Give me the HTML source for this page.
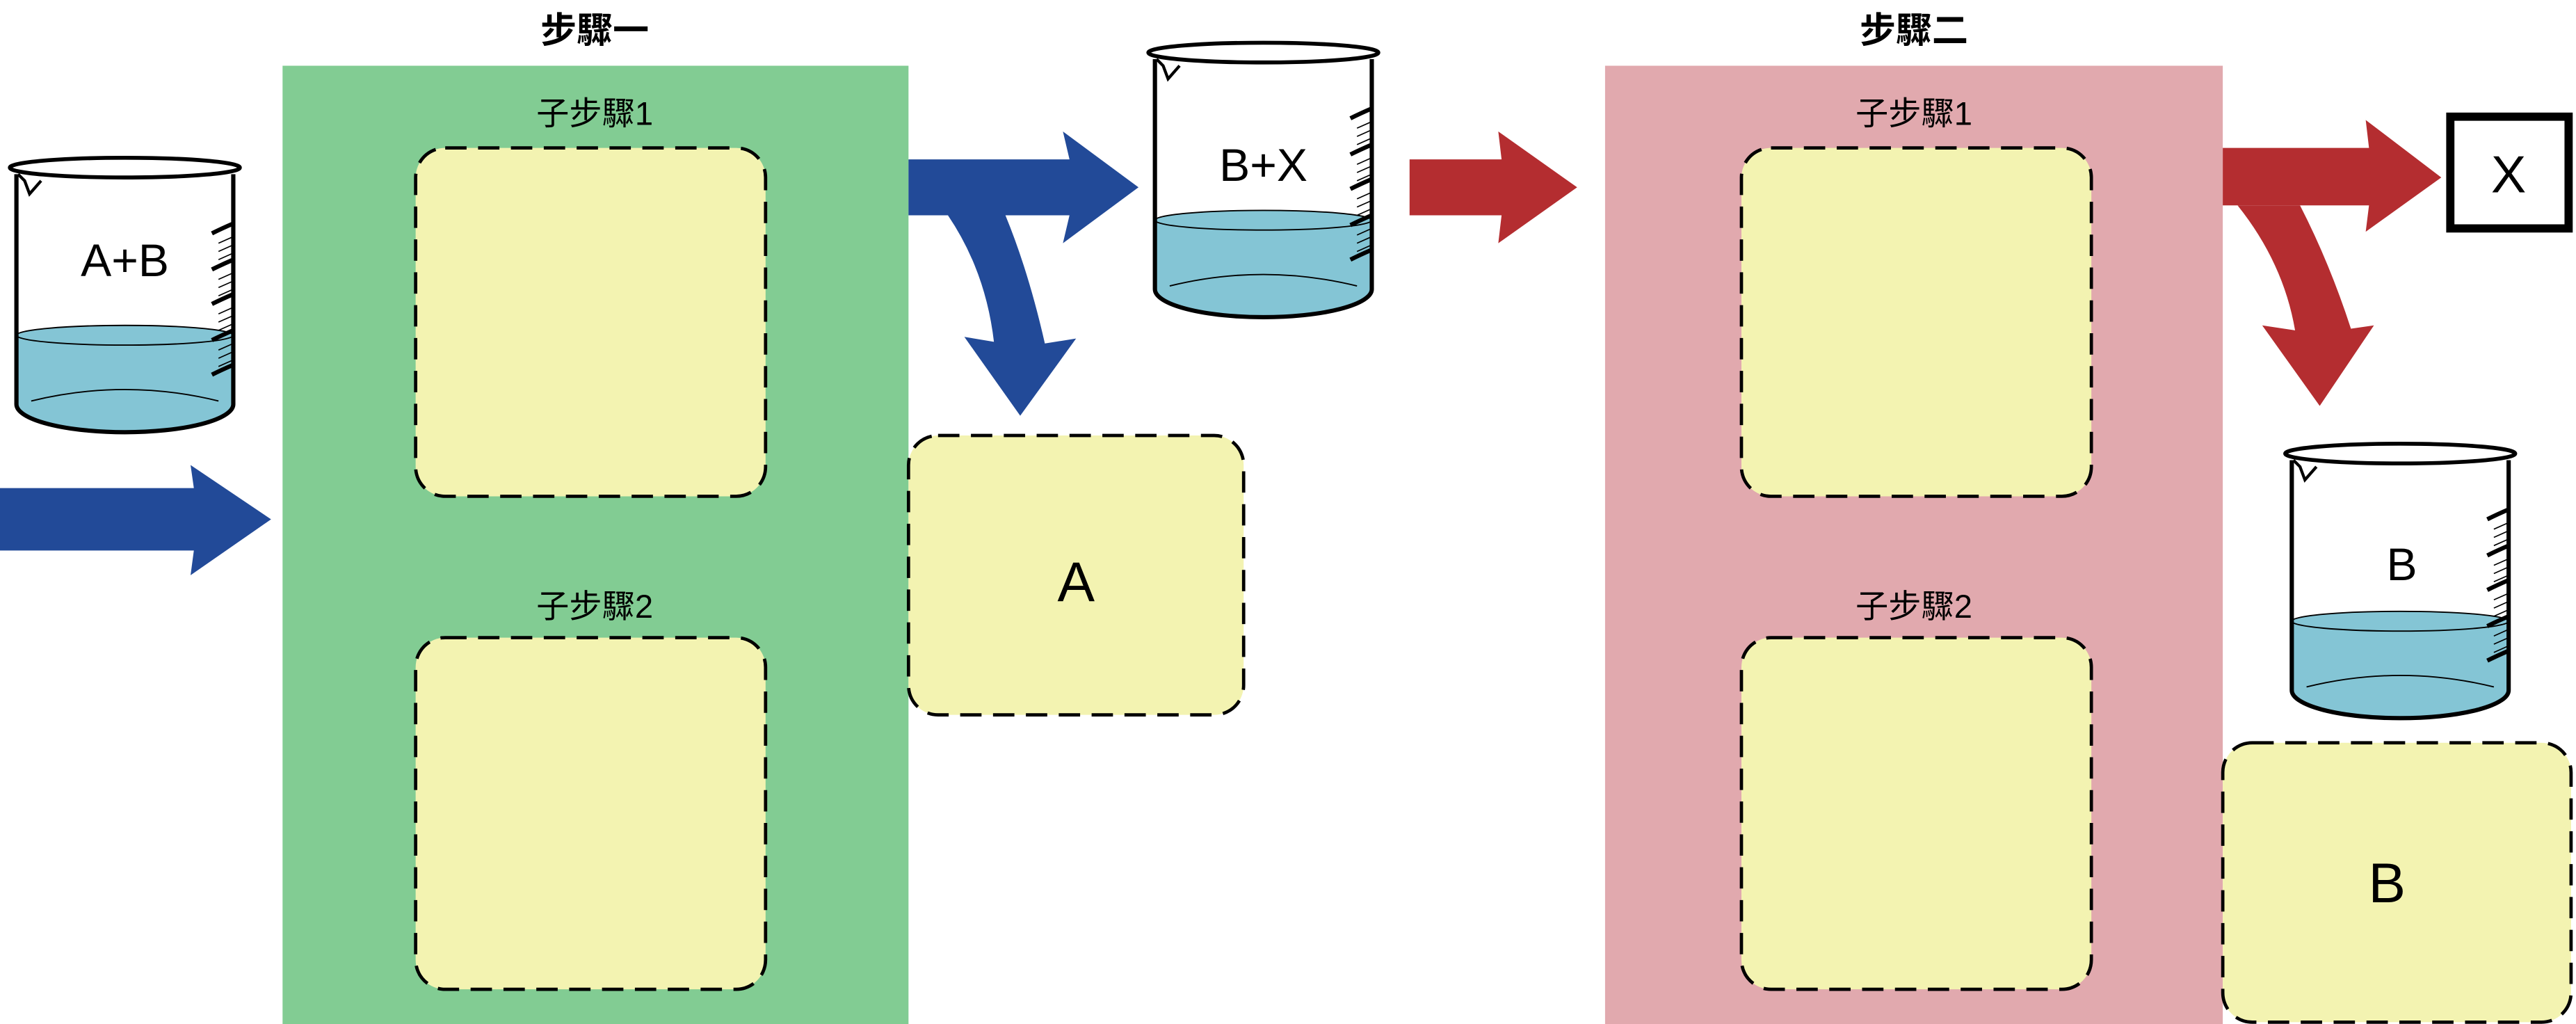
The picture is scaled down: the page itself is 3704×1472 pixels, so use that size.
<!DOCTYPE html>
<html><head><meta charset="utf-8"><style>
html,body{margin:0;padding:0;background:#fff;width:3704px;height:1472px;overflow:hidden}
svg{display:block}
.t{font-family:"Liberation Sans","Noto Sans CJK TC",sans-serif;fill:#000;text-anchor:middle}
.box{fill:#f3f3b1;stroke:#000;stroke-width:2;stroke-dasharray:13 7}
</style></head><body>
<svg width="3704" height="1472" viewBox="0 0 1568 623.1" preserveAspectRatio="none">
<defs>
<g id="beaker">
  <path d="M5,108 L5,150 A66,17 0 0 0 137,150 L137,108 Z" fill="#84c5d5"/>
  <ellipse cx="71" cy="108" rx="66" ry="6" fill="#84c5d5" stroke="#000" stroke-width="0.8"/>
  <path d="M14,148 Q71,134 128,148" fill="none" stroke="#000" stroke-width="0.8"/>
  <path d="M5,10 L5,150 A66,17 0 0 0 137,150 L137,10" fill="none" stroke="#000" stroke-width="2.6"/>
  <ellipse cx="71" cy="6" rx="70" ry="6" fill="#fff" stroke="#000" stroke-width="2.4"/>
  <path d="M6,10 L10,14 L13,22 L20,14" fill="none" stroke="#000" stroke-width="1.8"/>
  <g stroke="#000" fill="none">
    <path d="M124,46 Q130,43 137,40" stroke-width="2.6"/>
    <path d="M124,89 Q130,86 137,83" stroke-width="2.6"/>
    <path d="M124,132 Q130,129 137,126" stroke-width="2.6"/>
    <path d="M124,68 Q130,65 137,62" stroke-width="2.6"/>
    <path d="M124,111 Q130,108 137,105" stroke-width="2.6"/>
    <path d="M128,52 L137,48 M128,57 L137,53 M128,62 L137,58" stroke-width="0.7"/>
    <path d="M128,74 L137,70 M128,79 L137,75 M128,84 L137,80" stroke-width="0.7"/>
    <path d="M128,95 L137,91 M128,100 L137,96 M128,105 L137,101" stroke-width="0.7"/>
    <path d="M128,117 L137,113 M128,122 L137,118 M128,127 L137,123" stroke-width="0.7"/>
  </g>
</g>
</defs>

<!-- Step 1 -->
<text class="t" x="362" y="26" font-size="22" font-weight="bold">步驟一</text>
<rect x="172" y="40" width="381" height="584" fill="#82cc93"/>
<text class="t" x="362" y="76" font-size="20">子步驟1</text>
<rect class="box" x="253" y="90" width="213" height="212" rx="18"/>
<text class="t" x="362" y="376" font-size="20">子步驟2</text>
<rect class="box" x="253" y="388" width="213" height="214" rx="18"/>

<!-- Step 2 -->
<text class="t" x="1165" y="26" font-size="22" font-weight="bold">步驟二</text>
<rect x="977" y="40" width="376" height="584" fill="#e1a9ae"/>
<text class="t" x="1165" y="76" font-size="20">子步驟1</text>
<rect class="box" x="1060" y="90" width="213" height="212" rx="18"/>
<text class="t" x="1165" y="376" font-size="20">子步驟2</text>
<rect class="box" x="1060" y="388" width="213" height="214" rx="18"/>

<!-- beakers -->
<g transform="translate(5,96)"><use href="#beaker"/>
<text class="t" x="71" y="72" font-size="28">A+B</text></g>
<g transform="translate(698,26)"><use href="#beaker"/>
<text class="t" x="71" y="84" font-size="28">B+X</text></g>
<g transform="translate(1390,270)"><use href="#beaker"/>
<text class="t" x="72" y="83" font-size="28">B</text></g>

<!-- blue input arrow -->
<path d="M0,297 L118,297 L116,283 L165,316 L116,350 L118,335 L0,335 Z" fill="#224a98"/>
<!-- blue T arrow -->
<path d="M553,97 L651,97 L647,80 L693,114 L647,148 L651,131 L612,131 Q626,165 636,209 L655,206 L621,253 L587,205 L605,208 Q600,165 577,131 L553,131 Z" fill="#224a98"/>

<!-- box A -->
<rect class="box" x="553" y="265" width="204" height="170" rx="18"/>
<text class="t" x="655" y="366" font-size="34">A</text>

<!-- red arrow into step 2 -->
<path d="M858,97 L914,97 L912,80 L960,114 L912,148 L914,131 L858,131 Z" fill="#b42d30"/>
<!-- red T arrow -->
<g fill="#b42d30">
<path d="M1353,90 L1442,90 L1440,73 L1486,108 L1440,141 L1442,125 L1353,125 Z"/>
<path d="M1362,125 L1400,125 Q1418,160 1431,200 L1445,198 L1412,247 L1377,198 L1397,201 Q1390,160 1362,125 Z"/>
</g>

<!-- X box -->
<rect x="1491.5" y="71" width="72" height="68" fill="#fff" stroke="#000" stroke-width="5"/>
<text class="t" x="1527" y="117" font-size="32">X</text>

<!-- box B -->
<rect class="box" x="1353" y="452" width="212" height="170" rx="18"/>
<text class="t" x="1453" y="549" font-size="34">B</text>
</svg>
</body></html>
